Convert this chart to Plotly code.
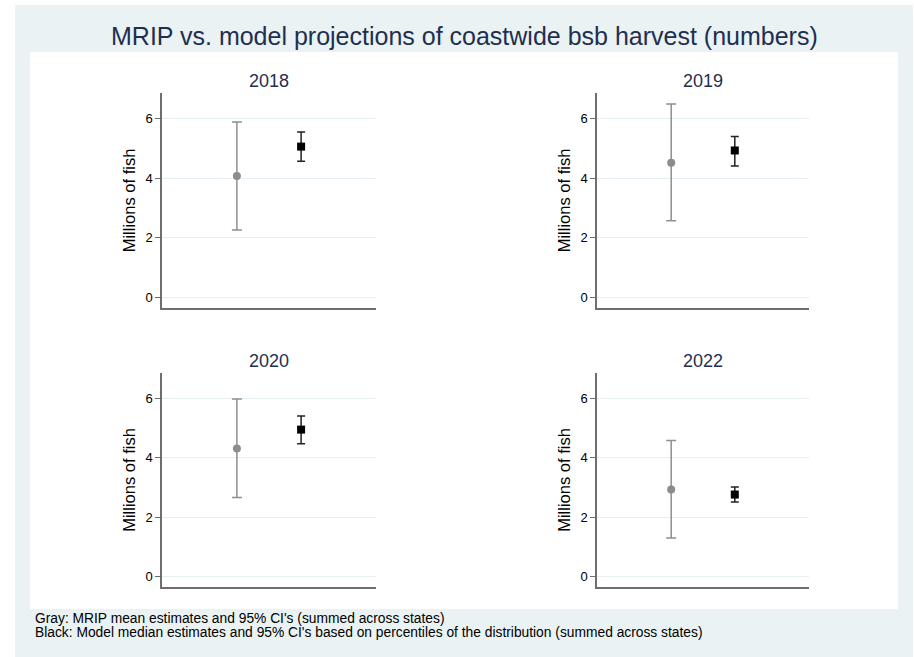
import plotly.graph_objects as go

W, H = 914, 657

years = ["2018", "2019", "2020", "2022"]
mrip_mean = [4.07, 4.52, 4.31, 2.93]
mrip_lo = [2.26, 2.57, 2.66, 1.29]
mrip_hi = [5.89, 6.49, 5.98, 4.58]
model_med = [5.06, 4.93, 4.95, 2.76]
model_lo = [4.57, 4.41, 4.47, 2.51]
model_hi = [5.55, 5.40, 5.41, 3.01]
x_pos = [1, 2]
y_ticks = [0, 2, 4, 6]

title = "MRIP vs. model projections of coastwide bsb harvest (numbers)"
notes = ["Gray: MRIP mean estimates and 95% CI's (summed across states)",
         "Black: Model median estimates and 95% CI's based on percentiles of the distribution (summed across states)"]

def px(x):
    return x / W

def py(y):
    return 1 - y / H

# panel pixel boxes: (left, right, top, bottom)
boxes = [(162, 376, 93, 308), (597, 809, 93, 308),
         (162, 376, 373, 587), (597, 809, 373, 587)]

fig = go.Figure()
layout = dict(width=W, height=H, margin=dict(l=0, r=0, t=0, b=0),
              paper_bgcolor="white", plot_bgcolor="white", showlegend=False,
              font=dict(family="Liberation Sans, Arial", color="black"))

annotations = []
for i, (yr, box) in enumerate(zip(years, boxes)):
    n = i + 1
    xa = "x" if n == 1 else f"x{n}"
    ya = "y" if n == 1 else f"y{n}"
    l, r, t, b = box
    fig.add_trace(go.Scatter(
        x=[x_pos[0]], y=[mrip_mean[i]], xaxis=xa, yaxis=ya, mode="markers",
        marker=dict(symbol="circle", size=8, color="#8c8c8c"),
        error_y=dict(type="data", symmetric=False,
                     array=[mrip_hi[i] - mrip_mean[i]],
                     arrayminus=[mrip_mean[i] - mrip_lo[i]],
                     color="#8f8f8f", thickness=1.5, width=5),
        hoverinfo="skip"))
    fig.add_trace(go.Scatter(
        x=[x_pos[1]], y=[model_med[i]], xaxis=xa, yaxis=ya, mode="markers",
        marker=dict(symbol="square", size=8, color="black"),
        error_y=dict(type="data", symmetric=False,
                     array=[model_hi[i] - model_med[i]],
                     arrayminus=[model_med[i] - model_lo[i]],
                     color="#222222", thickness=1.5, width=4),
        hoverinfo="skip"))
    xkey = "xaxis" if n == 1 else f"xaxis{n}"
    ykey = "yaxis" if n == 1 else f"yaxis{n}"
    layout[xkey] = dict(domain=[px(l), px(r)], anchor=ya, range=[-0.1667, 3.1667],
                        showgrid=False, zeroline=False, showticklabels=False,
                        ticks="", showline=True, linecolor="#6e6e6e", linewidth=1.5,
                        fixedrange=True)
    layout[ykey] = dict(domain=[py(b), py(t)], anchor=xa, range=[-0.36, 6.86],
                        tickvals=y_ticks, ticktext=[str(v) for v in y_ticks],
                        ticks="outside", ticklen=5, tickcolor="#6e6e6e", tickwidth=1.2,
                        tickfont=dict(size=13, color="black"),
                        showgrid=True, gridcolor="#e6eff1", gridwidth=1,
                        zeroline=False, showline=True, linecolor="#6e6e6e", linewidth=1.5,
                        title=dict(text="Millions of fish", font=dict(size=16.5, color="black"),
                                   standoff=6),
                        fixedrange=True)
    annotations.append(dict(text=yr, x=px((l + r) / 2), y=py(t - 12), xref="paper", yref="paper",
                            showarrow=False, font=dict(size=18, color="#1f2f4f"),
                            xanchor="center", yanchor="middle"))

annotations.append(dict(text=title, x=px(464), y=py(36), xref="paper", yref="paper",
                        showarrow=False, font=dict(size=25, color="#1f2f4f"),
                        xanchor="center", yanchor="middle"))
for j, note in enumerate(notes):
    annotations.append(dict(text=note, x=px(33), y=py(618 + 14 * j), xref="paper", yref="paper",
                            showarrow=False, font=dict(size=13.8, color="black"),
                            xanchor="left", yanchor="middle"))

layout["annotations"] = annotations
layout["shapes"] = [
    dict(type="rect", xref="paper", yref="paper", x0=px(15), x1=px(913), y0=py(657), y1=py(5),
         fillcolor="#eaf2f3", line=dict(width=0), layer="below"),
    dict(type="rect", xref="paper", yref="paper", x0=px(30), x1=px(898), y0=py(609), y1=py(52),
         fillcolor="white", line=dict(width=0), layer="below"),
]
fig.update_layout(**layout)
fig.write_html("out.html")
